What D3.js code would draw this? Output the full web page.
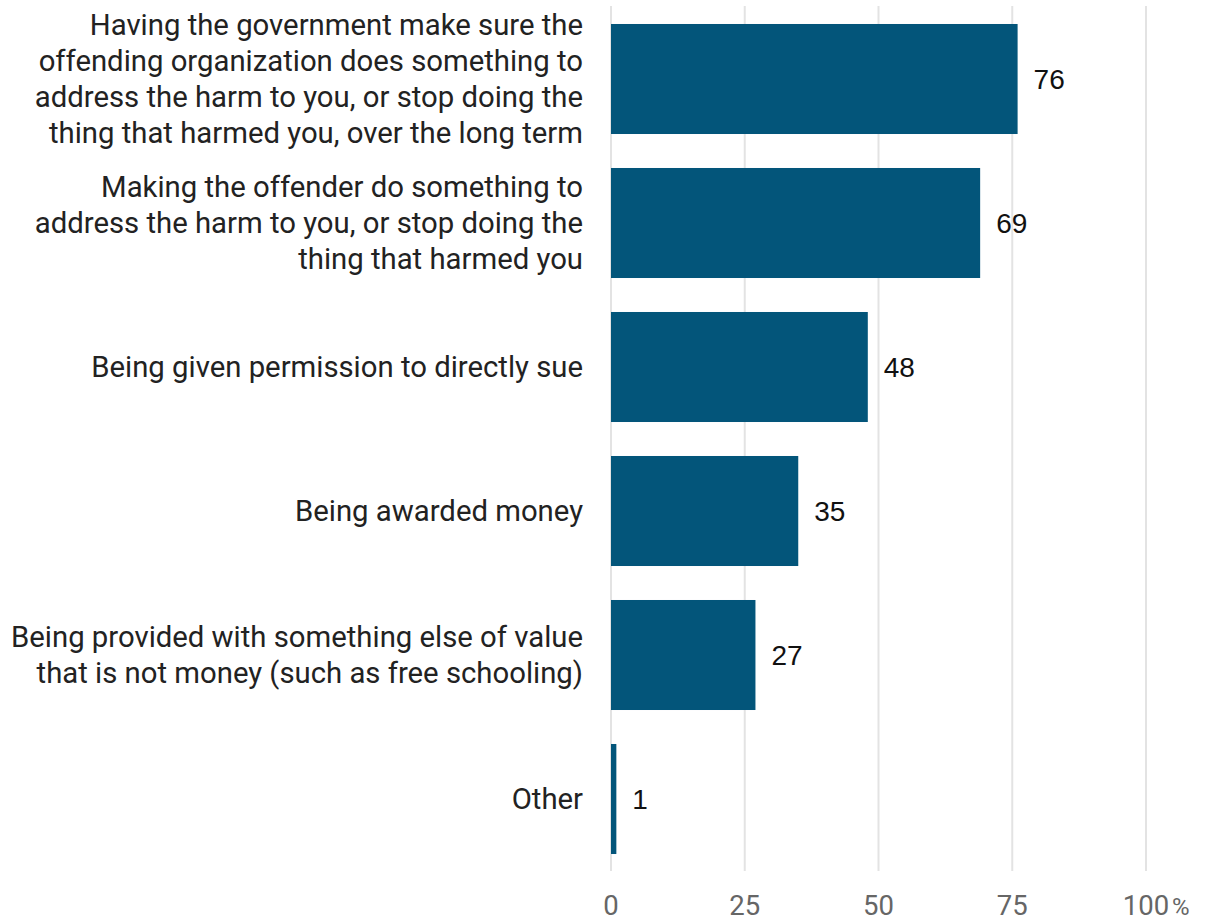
<!DOCTYPE html>
<html><head><meta charset="utf-8">
<script src="https://cdn.jsdelivr.net/npm/d3@7"></script>
<style>body{margin:0;background:#fff}</style>
</head><body>
<svg id="c" width="1205" height="921"></svg>
<script>
const categories = [
  ["Having the government make sure the","offending organization does something to","address the harm to you, or stop doing the","thing that harmed you, over the long term"],
  ["Making the offender do something to","address the harm to you, or stop doing the","thing that harmed you"],
  ["Being given permission to directly sue"],
  ["Being awarded money"],
  ["Being provided with something else of value","that is not money (such as free schooling)"],
  ["Other"]
];
const values = [76, 69, 48, 35, 27, 1];
const ticks = [0, 25, 50, 75, 100];

const svg = d3.select("#c");
const x = d3.scaleLinear().domain([0, 100]).range([611, 1146]);
const y = d3.scaleBand().domain(d3.range(categories.length)).range([7, 871])
  .paddingInner(0.236).paddingOuter(0.118);

// gridlines
svg.append("g").selectAll("line").data(ticks).join("line")
  .attr("x1", d => x(d)).attr("x2", d => x(d))
  .attr("y1", 6).attr("y2", 871)
  .attr("stroke", "#e3e3e3").attr("stroke-width", 2);

// tick labels
const tg = svg.append("g").attr("font-family", "Roboto").attr("fill", "#666");
tg.selectAll("text").data(ticks).join("text")
  .attr("x", d => x(d)).attr("y", 915)
  .attr("text-anchor", "middle").attr("font-size", 27.5)
  .text(d => d);
tg.append("text").attr("x", x(100) + 26).attr("y", 915)
  .attr("font-size", 24).attr("text-anchor", "start").text("%");

// bars
svg.append("g").selectAll("rect").data(values).join("rect")
  .attr("x", x(0)).attr("y", (d, i) => y(i))
  .attr("width", d => x(d) - x(0)).attr("height", y.bandwidth())
  .attr("fill", "#03557a");

// value labels
svg.append("g").selectAll("text").data(values).join("text")
  .attr("x", d => x(d) + 16).attr("y", (d, i) => y(i) + y.bandwidth() / 2)
  .attr("dy", "0.35em").attr("font-family", "Liberation Sans").attr("font-size", 28)
  .attr("fill", "#111").text(d => d);

// category labels
const lh = 36;
const cg = svg.append("g").attr("font-family", "Roboto").attr("font-size", 29.3)
  .attr("fill", "#222").attr("text-anchor", "end");
categories.forEach((lines, i) => {
  const cy = y(i) + y.bandwidth() / 2;
  const t = cg.append("text");
  lines.forEach((l, j) => {
    t.append("tspan").attr("x", 583)
      .attr("y", cy + (j - (lines.length - 1) / 2) * lh)
      .attr("dy", "0.35em").text(l);
  });
});
</script>
</body></html>
